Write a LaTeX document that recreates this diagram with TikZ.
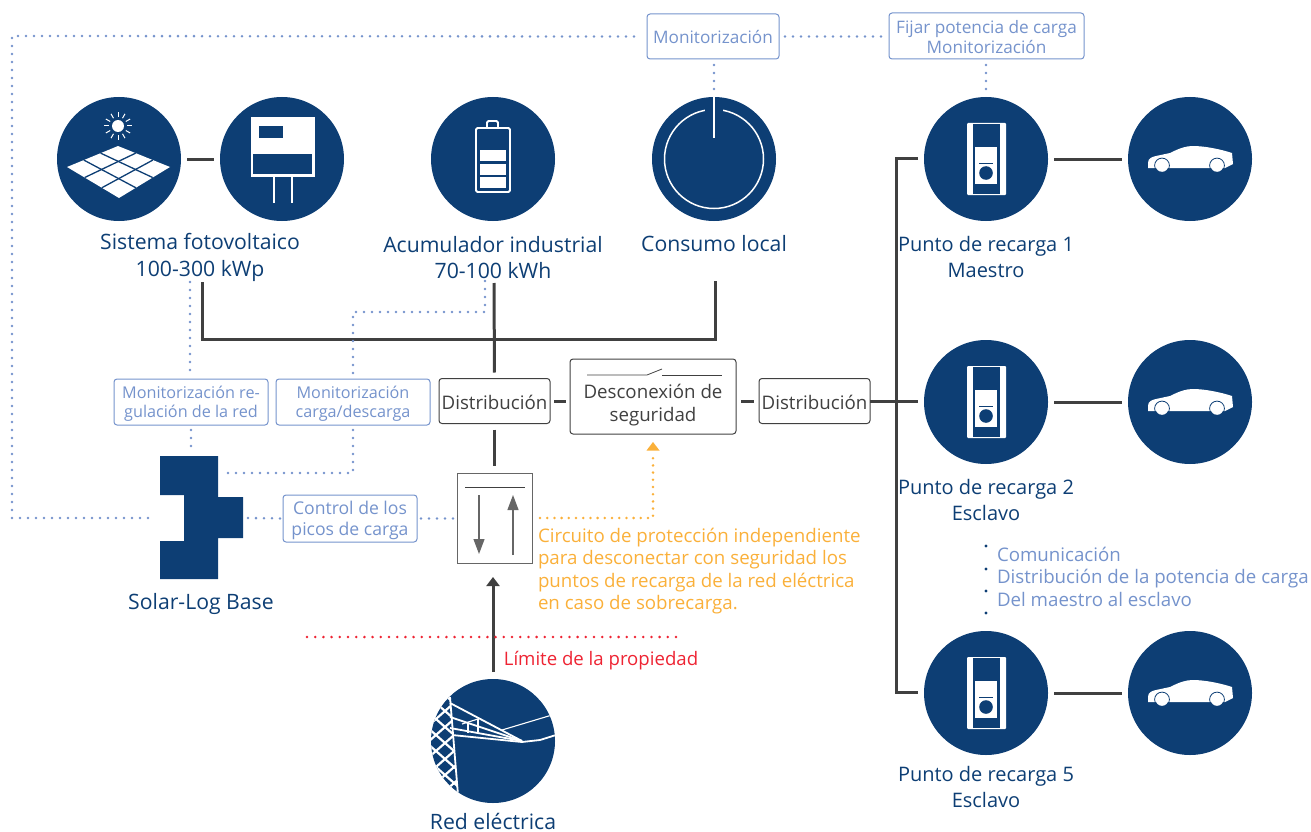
\documentclass[tikz,border=0pt]{standalone}
\usepackage{fontspec}
\setmainfont{Open Sans}
\usetikzlibrary{arrows.meta,calc}
\definecolor{navy}{HTML}{0D3E74}
\definecolor{wiregray}{HTML}{404040}
\definecolor{dotblue}{HTML}{7593CC}
\definecolor{protorange}{HTML}{FAB03A}
\definecolor{limitred}{HTML}{EE2433}
\newcommand{\chargericon}[1]{%
\begin{scope}[shift={(#1.center)}]
\fill[white,rounded corners=1pt] (-19,-36) rectangle (20,36);
\fill[navy] (-13,-35) rectangle (14,35);
\fill[white] (-11,-12) rectangle (11,25);
\draw[navy,line width=1pt] (-7,4) -- (7,4);
\fill[navy] (0,14) circle[radius=6.8pt];
\end{scope}}
\newcommand{\caricon}[1]{%
\begin{scope}[shift={(#1.center)}]
\fill[white] (-42,4) .. controls (-42,-1) and (-38,-2) .. (-34,-3) -- (-20,-6) .. controls (-10,-11) and (-4,-13) .. (3,-13) .. controls (14,-13) and (30,-10) .. (42,-6) -- (43,5) -- (35,9) -- (-42,9) -- cycle;
\foreach \wx in {-28,27} {
\draw[navy,line width=0.8pt] (\wx,6.5) circle[radius=7.4pt];
\fill[white] (\wx,6.5) circle[radius=6.3pt];
}
\end{scope}}
\begin{document}
\begin{tikzpicture}[x=1pt,y=-1pt,inner sep=0pt,outer sep=0pt,
hub/.style={circle,fill=navy,minimum size=124pt},
wire/.style={draw=wiregray,line width=3pt},
dotline/.style={draw=dotblue,line width=2.8pt,line cap=round,dash pattern=on 0pt off 8pt},
sysblock/.style={draw=wiregray,rectangle,rounded corners=3pt,line width=1pt,text=wiregray,align=center,font=\fontsize{18.7}{23}\selectfont},
distblock/.style={sysblock,minimum width=111pt,minimum height=45pt,text height=19pt,text depth=3pt},
infoblock/.style={draw=dotblue,rectangle,rounded corners=3pt,line width=1pt,text=dotblue,align=center,font=\fontsize{16.2}{19}\selectfont},
hublabel/.style={text=navy,align=center,font=\fontsize{21.2}{26.5}\selectfont},
cplabel/.style={hublabel,font=\fontsize{20}{26}\selectfont}]
\useasboundingbox (0,0) rectangle (1311,832);

% circles
\draw (119,159) node[hub] (pv) {};
\draw (282,159) node[hub] (inverter) {};
\draw (493,159) node[hub] (battery) {};
\draw (714,159) node[hub] (load) {};
\draw (986,159) node[hub] (cp1) {};
\draw (1190,159) node[hub] (car1) {};
\draw (986,402) node[hub] (cp2) {};
\draw (1190,402) node[hub] (car2) {};
\draw (986,693) node[hub] (cp5) {};
\draw (1190,693) node[hub] (car5) {};
\draw (493,741) node[hub] (grid) {};

% labels
\draw (200,257.5) node[hublabel] (pvlabel) {Sistema fotovoltaico\\100-300 kWp};
\draw (493,257.5) node[hublabel] (batlabel) {Acumulador industrial\\70-100 kWh};
\draw (714,244) node[hublabel] (loadlabel) {Consumo local};
\draw (986,257) node[cplabel] (cp1label) {Punto de recarga 1\\Maestro};
\draw (986,500) node[cplabel] (cp2label) {Punto de recarga 2\\Esclavo};
\draw (986,787) node[cplabel] (cp5label) {Punto de recarga 5\\Esclavo};
\draw (201,604) node[hublabel] (sllabel) {Solar-Log Base};
\draw (493,821.5) node[hublabel] (gridlabel) {Red eléctrica};

% blocks
\draw (494.5,401) node[distblock] (dist1) {Distribución};
\draw (653,396.5) node[sysblock,minimum width=166pt,minimum height=75pt] (cutoff) {\rule{0pt}{31pt}Desconexión de\\seguridad};
\draw (814.5,401) node[distblock] (dist2) {Distribución};
\draw (494.5,518) node[draw=wiregray!80,line width=1pt,rectangle,minimum width=75pt,minimum height=90pt] (breaker) {};
\draw (713,36.5) node[infoblock,minimum width=132pt,minimum height=45pt,font=\fontsize{17.2}{20}\selectfont] (mon) {Monitorización};
\draw (986.5,36) node[infoblock,minimum width=195pt,minimum height=46pt,font=\fontsize{17.2}{20}\selectfont] (fix) {\rule{0pt}{16pt}Fijar potencia de carga\\Monitorización};
\draw (191,402) node[infoblock,minimum width=154pt,minimum height=46pt] (mon1) {\rule{0pt}{16pt}Monitorización re-\\gulación de la red};
\draw (353,402) node[infoblock,minimum width=154pt,minimum height=46pt] (mon2) {\rule{0pt}{16pt}Monitorización\\carga/descarga};
\draw (350,518.5) node[infoblock,minimum width=134pt,minimum height=47pt,font=\fontsize{17.6}{21}\selectfont] (peak) {\rule{0pt}{17pt}Control de los\\picos de carga};

% Solar-Log
\fill[navy] (160,456) -- (218,456) -- (218,497) -- (243,497) -- (243,538) -- (218,538) -- (218,579) -- (160,579) -- (160,541) -- (184,541) -- (184,495) -- (160,495) -- cycle;
\coordinate (slwest) at (148,518);
\coordinate (sleast) at (248,518);
\coordinate (slnorth) at (191,452);
\coordinate (slside) at (224,473);

% icons: pv
\fill[white] (118,126) circle[radius=6pt];
\foreach \ang in {0,30,...,330} {
\draw[white,line width=1pt] (118,126) ++(\ang:9pt) -- ++(\ang:5pt);
}
\coordinate (pT) at (118,146);
\coordinate (pR) at (170,167);
\coordinate (pB) at (119,198);
\coordinate (pL) at (67,167);
\fill[white] (pT) -- (pR) -- (pB) -- (pL) -- cycle;
\foreach \t in {0.34,0.67} {
\draw[navy,line width=1.3pt] ($(pT)!\t!(pL)$) -- ($(pR)!\t!(pB)$);
\draw[navy,line width=1.3pt] ($(pT)!\t!(pR)$) -- ($(pL)!\t!(pB)$);
}
% icons: inverter
\fill[white] (251,117) rectangle (315,177);
\fill[navy] (259,126) rectangle (283,138);
\fill[navy] (253,154) rectangle (312,174);
\draw[white,line width=1.4pt] (274,177) -- (274,203);
\draw[white,line width=1.4pt] (292,177) -- (292,203);
% icons: battery
\draw[white,line width=1.8pt,rounded corners=1.5pt] (476,128) rectangle (510,192);
\draw[white,line width=1.8pt,rounded corners=1.5pt] (487,128) -- (487,121) -- (498,121) -- (498,128);
\foreach \yy in {150,164,177} {
\fill[white] (480,\yy) rectangle (506,\yy+11);
}
% icons: load
\draw[white,line width=1.5pt] (load.center) circle[radius=49.5pt];
\fill[navy] (705,104) rectangle (723,116);
\draw[white,line width=2.8pt] (714,97) -- (714,138);
% icons: charger, car
\chargericon{cp1}
\chargericon{cp2}
\chargericon{cp5}
\caricon{car1}
\caricon{car2}
\caricon{car5}
% icons: pylon
\begin{scope}
\clip (grid.center) circle[radius=62pt];
\begin{scope}
\clip (428,690) -- (450,690) -- (458,800) -- (428,800) -- cycle;
\foreach \yy in {680,696,...,792} {
\draw[white,line width=2.2pt] (428,\yy) -- (462,\yy+30);
\draw[white,line width=2.2pt] (428,\yy+30) -- (462,\yy);
}
\end{scope}
\draw[white,line width=1.8pt] (450,697) -- (458,795);
\draw[white,line width=1.8pt] (450,703) -- (522,741);
\draw[white,line width=1.8pt] (450,717) -- (522,741);
\draw[white,line width=1.8pt] (450,728) -- (522,741);
\draw[white,line width=1.8pt] (452,735) -- (522,742) -- (540,740) -- (556,735);
\draw[white,line width=1.1pt] (502,730) -- (552,715);
\draw[white,line width=1.1pt] (468,722) -- (468,733);
\draw[white,line width=1.1pt] (478,719) -- (478,732);
\draw[white,line width=1.1pt] (462,724) -- (478,719);
\end{scope}

% switch symbol
\draw[wiregray,line width=0.8pt] (587,375) -- (647,375) -- (662,369);
\draw[wiregray,line width=0.8pt] (662,375) -- (722,375);
% breaker symbol
\coordinate (brlineW) at (465,487);
\coordinate (brlineE) at (525,487);
\draw[wiregray,line width=1pt] (brlineW) -- (brlineE);
\draw[-{Triangle[length=15pt,width=11pt]},wiregray!80,line width=1.2pt] (479,495) -- (479,554);
\draw[-{Triangle[length=15pt,width=11pt]},wiregray!80,line width=1.2pt] (513,555) -- (513,495);

% power lines
\coordinate (busw) at (202,339);
\coordinate (buse) at (715,339);
\coordinate (pvend) at (202,282);
\coordinate (loadend) at (715,281);
\coordinate (batend) at (494,283);
\coordinate (bustop) at (896,158);
\coordinate (busbot) at (896,692);
\draw[wire] (pvend) -- (busw) -- (buse) -- (loadend);
\draw[wire,shorten >=6pt] (batend) -- (dist1.north);
\draw[wire,shorten >=7pt,shorten <=6pt] (dist1.south) -- (breaker.north);
\draw[wire,shorten >=4pt,shorten <=4pt] (dist1.east) -- (dist1.east -| cutoff.west);
\draw[wire,shorten >=5pt,shorten <=5pt] (cutoff.east |- dist2.west) -- (dist2.west);
\draw[wire,shorten >=6pt] (dist2.east) -- (dist2.east -| cp2.west);
\draw[wire,shorten <=6pt,shorten >=6pt] (cp1.west) ++(0,-1) -- (bustop) -- (busbot) -- ($(cp5.west)+(0,-1)$);
\draw[wire,shorten >=6pt,shorten <=6pt] (pv.east) -- (inverter.west);
\foreach \row in {1,2,5} {
\draw[wire,shorten >=6pt,shorten <=6pt] (cp\row.east) -- (car\row.west);
}
\coordinate (gridtop) at (493,672);
\coordinate (breakerlow) at (493,577);
\draw[-{Triangle[length=9pt,width=13pt]},wire] (gridtop) -- (breakerlow);

% dotted signal lines
\coordinate (farsw) at (12,518);
\coordinate (farnw) at (12,36);
\coordinate (pvdot) at (190,282);
\coordinate (mon2top) at (353,312);
\coordinate (batdot) at (485,312);
\coordinate (batdotend) at (485,281);
\coordinate (mon2low) at (353,473);
\draw[dotline] (slwest) -- (farsw) -- (farnw) -- ($(mon.west)+(-6,0)$);
\draw[dotline,shorten <=6pt,shorten >=4pt] (mon.east) -- (fix.west |- mon.east);
\draw[dotline,shorten <=6pt,shorten >=2pt] (mon.south -| load.north) -- (load.north);
\draw[dotline,shorten <=6pt,shorten >=2pt] (fix.south -| cp1.north) -- (cp1.north);
\draw[dotline,shorten >=5pt] (pvdot) -- (pvdot |- mon1.north);
\draw[dotline,shorten <=5pt] (mon1.south) -- (slnorth);
\draw[dotline,shorten >=5pt] (batdotend) -- (batdot) -- (mon2top) -- (mon2.north);
\draw[dotline,shorten <=5pt] (mon2.south) -- (mon2low) -- (slside);
\draw[dotline,shorten >=1pt] (sleast) -- (peak.west);
\draw[dotline,shorten <=4pt,shorten >=2pt] (peak.east) -- (breaker.west |- peak.east);

% protection path
\coordinate (protstart) at (540,518);
\coordinate (protcorner) at (653,518);
\draw[draw=protorange,line width=2.8pt,line cap=round,dash pattern=on 0pt off 7.2pt] (protstart) -- (protcorner) -- (653,453);
\fill[protorange] (653,442) -- (659.5,450.5) -- (646.5,450.5) -- cycle;
\draw (538,571) node[anchor=west,text=protorange,align=left,font=\fontsize{18.7}{22.3}\selectfont] (prottext) {Circuito de protección independiente\\para desconectar con seguridad los\\puntos de recarga de la red eléctrica\\en caso de sobrecarga.};

% property limit
\coordinate (limW) at (307,637);
\coordinate (limE) at (680,637);
\draw[draw=limitred,line width=2.8pt,line cap=round,dash pattern=on 0pt off 8.2pt] (limW) -- (limE);
\draw (601,661) node[text=limitred,font=\fontsize{18.6}{22}\selectfont] (limtext) {Límite de la propiedad};

% comm note
\draw (997,576.5) node[anchor=west,text=dotblue,align=left,font=\fontsize{18.7}{22.5}\selectfont] (commtext) {Comunicación\\Distribución de la potencia de carga\\Del maestro al esclavo};
\foreach \yy in {546,569,591,613} {
\fill[navy] (986,\yy) circle[radius=1.7pt];
}
\end{tikzpicture}
\end{document}
